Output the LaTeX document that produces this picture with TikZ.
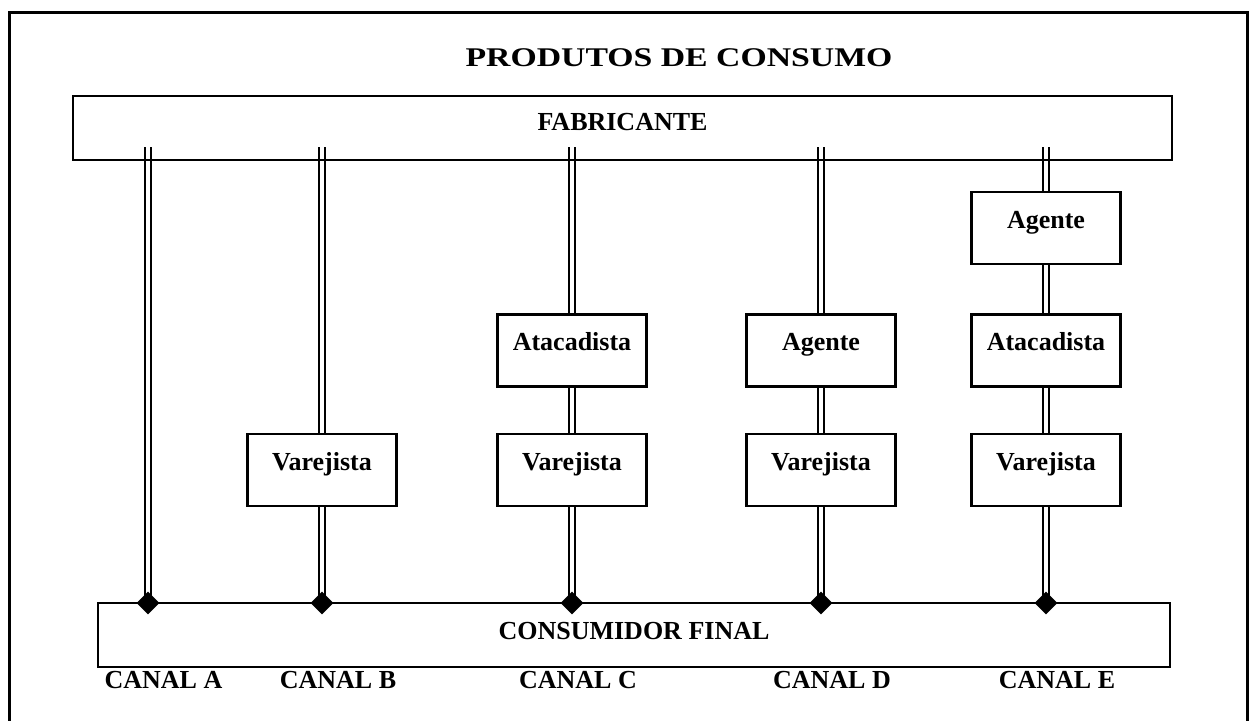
\documentclass[tikz,border=0pt]{standalone}
\usepackage{fontspec}
\setmainfont{Liberation Serif}
\newfontfamily\titlefont[FakeStretch=1.25]{Liberation Serif}
\usetikzlibrary{shapes.geometric}
\pgfdeclarelayer{background}
\pgfsetlayers{background,main}
\tikzset{
  lbl/.style={font=\fontsize{26}{30}\selectfont\bfseries},
  bigbox/.style={draw, line width=2.2pt, inner sep=0pt, lbl},
  chbox/.style={draw, fill=white, line width=2.2pt, minimum width=149pt, minimum height=72pt, inner sep=0pt, text height=18pt, text depth=18pt, lbl},
  dline/.style={draw, double=white, double distance=3.3pt, line width=2.2pt},
  dia/.style={diamond, fill=black, minimum size=23pt, inner sep=0pt},
  canal/.style={anchor=base, lbl},
}
\begin{document}
\begin{tikzpicture}[x=1pt,y=-1pt]
\useasboundingbox (0,0) rectangle (1249,720);
% outer frame
\draw[line width=3pt] (9.5,730) -- (9.5,12) -- (1247.5,12) -- (1247.5,730);
% title
\node[anchor=base, font=\titlefont\fontsize{27}{32}\selectfont\bfseries] (title) at (679,66) {PRODUTOS DE CONSUMO};
% main boxes
\node[bigbox, minimum width=1099pt, minimum height=64pt, text height=20pt, text depth=16pt] (fab) at (622.5,128) {FABRICANTE};
\node[bigbox, fill=white, minimum width=1072pt, minimum height=64pt, text height=22pt, text depth=14pt] (cons) at (634,635) {CONSUMIDOR FINAL};
% channel boxes
\node[chbox] (vB) at (322,470) {Varejista};
\node[chbox] (aC) at (572,350.5) {Atacadista};
\node[chbox] (vC) at (572,470) {Varejista};
\node[chbox] (gD) at (821,350.5) {Agente};
\node[chbox] (vD) at (821,470) {Varejista};
\node[chbox] (gE) at (1046,228) {Agente};
\node[chbox] (aE) at (1046,350.5) {Atacadista};
\node[chbox] (vE) at (1046,470) {Varejista};
% start coordinates and diamonds
\coordinate (tA) at (148,147);
\coordinate (tB) at (322,147);
\coordinate (tC) at (572,147);
\coordinate (tD) at (821,147);
\coordinate (tE) at (1046,147);
\node[dia] (dA) at (148,603) {};
\node[dia] (dB) at (322,603) {};
\node[dia] (dC) at (572,603) {};
\node[dia] (dD) at (821,603) {};
\node[dia] (dE) at (1046,603) {};
% connectors
\begin{pgfonlayer}{background}
\path[dline] (tA) -- (dA.center);
\path[dline] (tB) -- (vB.north);
\path[dline] (vB.south) -- (dB.center);
\path[dline] (tC) -- (aC.north);
\path[dline] (aC.south) -- (vC.north);
\path[dline] (vC.south) -- (dC.center);
\path[dline] (tD) -- (gD.north);
\path[dline] (gD.south) -- (vD.north);
\path[dline] (vD.south) -- (dD.center);
\path[dline] (tE) -- (gE.north);
\path[dline] (gE.south) -- (aE.north);
\path[dline] (aE.south) -- (vE.north);
\path[dline] (vE.south) -- (dE.center);
\end{pgfonlayer}
% canal labels
\node[canal] (cA) at (163.5,688) {CANAL A};
\node[canal] (cB) at (338,688) {CANAL B};
\node[canal] (cC) at (578,688) {CANAL C};
\node[canal] (cD) at (832,688) {CANAL D};
\node[canal] (cE) at (1057,688) {CANAL E};
\end{tikzpicture}
\end{document}
